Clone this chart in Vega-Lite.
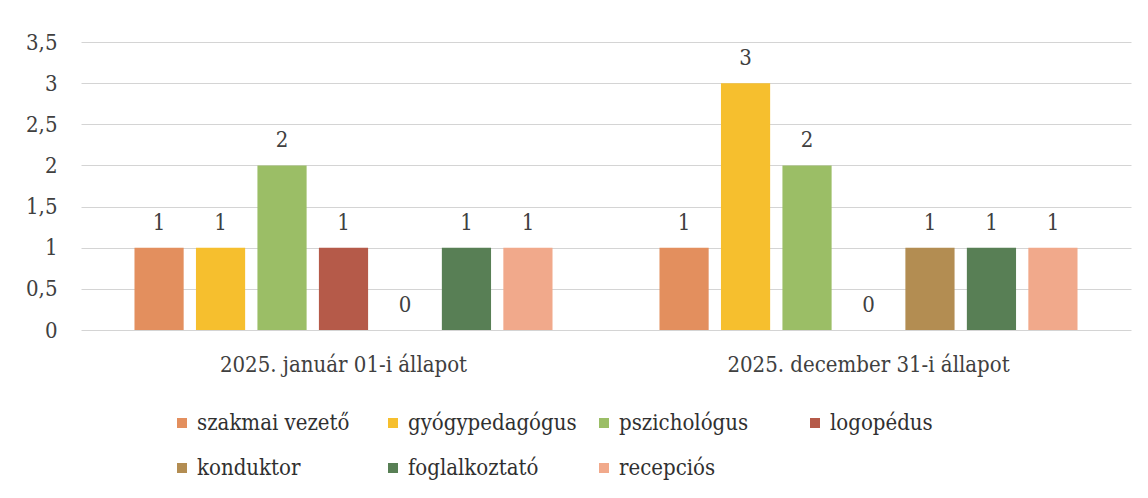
{
  "$schema": "https://vega.github.io/schema/vega-lite/v6.json",
  "width": 1050,
  "height": 288,
  "autosize": {"type": "none"},
  "padding": {"left": 81, "top": 42, "right": 17, "bottom": 168},
  "background": "white",
  "config": {
    "font": "DejaVu Serif Condensed",
    "view": {"stroke": null},
    "axis": {"labelFont": "DejaVu Serif Condensed", "labelColor": "#404040", "labelFontSize": 22}
  },
  "data": {
    "values": [
      {"idopont": "2025. január 01-i állapot", "munkakor": "szakmai vezető", "letszam": 1},
      {"idopont": "2025. január 01-i állapot", "munkakor": "gyógypedagógus", "letszam": 1},
      {"idopont": "2025. január 01-i állapot", "munkakor": "pszichológus", "letszam": 2},
      {"idopont": "2025. január 01-i állapot", "munkakor": "logopédus", "letszam": 1},
      {"idopont": "2025. január 01-i állapot", "munkakor": "konduktor", "letszam": 0},
      {"idopont": "2025. január 01-i állapot", "munkakor": "foglalkoztató", "letszam": 1},
      {"idopont": "2025. január 01-i állapot", "munkakor": "recepciós", "letszam": 1},
      {"idopont": "2025. december 31-i állapot", "munkakor": "szakmai vezető", "letszam": 1},
      {"idopont": "2025. december 31-i állapot", "munkakor": "gyógypedagógus", "letszam": 3},
      {"idopont": "2025. december 31-i állapot", "munkakor": "pszichológus", "letszam": 2},
      {"idopont": "2025. december 31-i állapot", "munkakor": "logopédus", "letszam": 0},
      {"idopont": "2025. december 31-i állapot", "munkakor": "konduktor", "letszam": 1},
      {"idopont": "2025. december 31-i állapot", "munkakor": "foglalkoztató", "letszam": 1},
      {"idopont": "2025. december 31-i állapot", "munkakor": "recepciós", "letszam": 1}
    ]
  },
  "encoding": {
    "x": {
      "field": "idopont", "type": "nominal", "sort": null,
      "scale": {"paddingInner": 0, "paddingOuter": 0},
      "axis": {"title": null, "labelAngle": 0, "ticks": false, "domain": false, "labelPadding": 24, "grid": false, "labelLimit": 0}
    },
    "xOffset": {
      "field": "munkakor", "type": "nominal",
      "sort": ["szakmai vezető", "gyógypedagógus", "pszichológus", "logopédus", "konduktor", "foglalkoztató", "recepciós"],
      "scale": {"paddingInner": 0.2, "paddingOuter": 0.87}
    },
    "y": {
      "field": "letszam", "type": "quantitative",
      "scale": {"domain": [0, 3.5], "nice": false},
      "axis": {
        "title": null, "values": [0, 0.5, 1, 1.5, 2, 2.5, 3, 3.5],
        "labelExpr": "replace(format(datum.value, '.1~f'), '.', ',')",
        "ticks": false, "domain": false, "labelPadding": 24,
        "grid": true, "gridColor": "#d4d4d4", "gridWidth": 1
      }
    }
  },
  "layer": [
    {
      "mark": {"type": "bar"},
      "encoding": {
        "color": {
          "field": "munkakor", "type": "nominal",
          "scale": {
            "domain": ["szakmai vezető", "gyógypedagógus", "pszichológus", "logopédus", "konduktor", "foglalkoztató", "recepciós"],
            "range": ["#E38F5E", "#F6BF2E", "#9BBE66", "#B55A49", "#B38D52", "#587F55", "#F1A98B"]
          },
          "legend": {
            "title": null, "orient": "none", "legendX": 90, "legendY": 370,
            "direction": "horizontal", "columns": 4, "gridAlign": "all", "symbolType": "square",
            "symbolSize": 100, "symbolStrokeWidth": 0, "symbolOpacity": 1,
            "labelFont": "DejaVu Serif Condensed", "labelFontSize": 22, "labelColor": "#303030",
            "labelOffset": 4, "columnPadding": 16, "rowPadding": 23, "labelLimit": 0
          }
        }
      }
    },
    {
      "mark": {"type": "text", "baseline": "middle", "dy": -25, "fontSize": 22, "color": "#404040", "font": "DejaVu Serif Condensed"},
      "encoding": {"text": {"field": "letszam", "type": "quantitative"}}
    }
  ]
}
